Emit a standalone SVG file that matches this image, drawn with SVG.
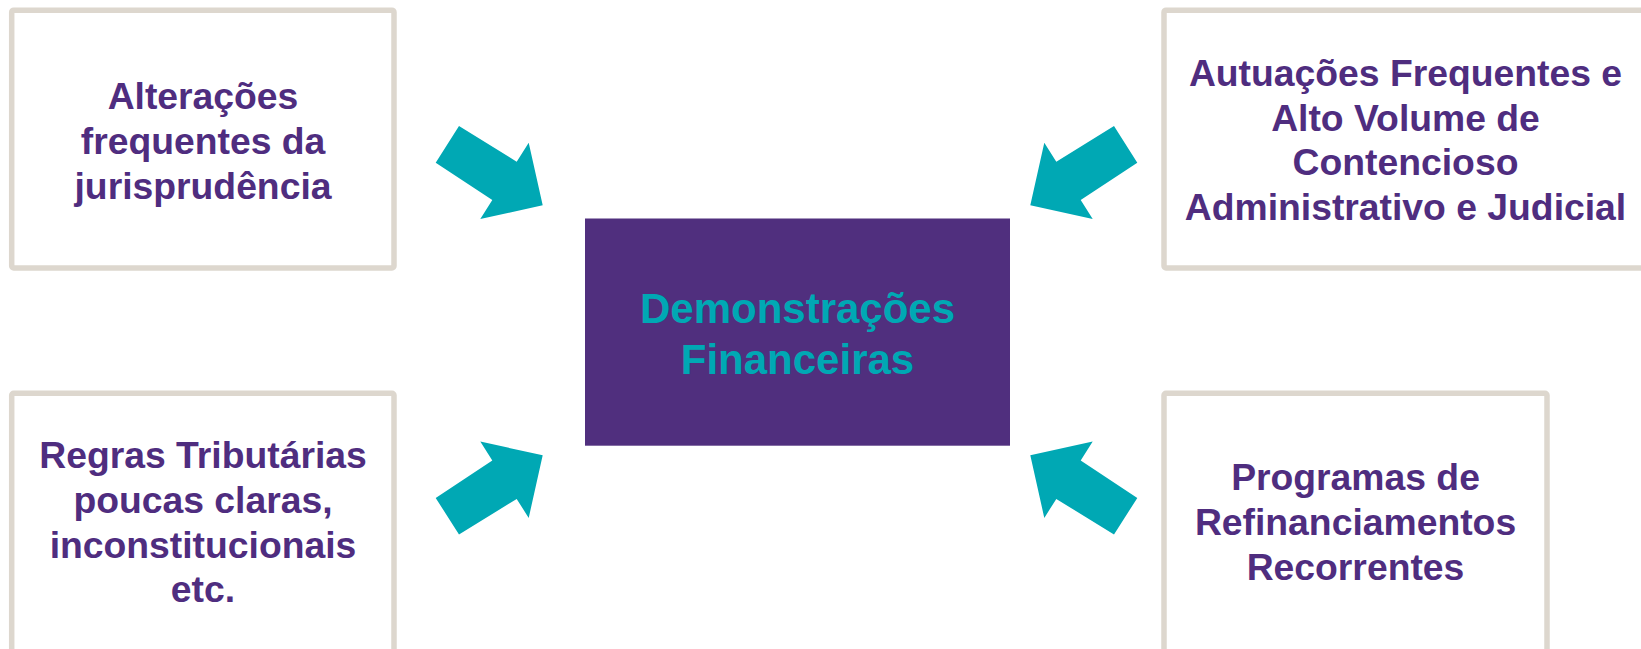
<svg xmlns="http://www.w3.org/2000/svg" width="1641" height="649" viewBox="0 0 1641 649">
  <style>
    .box { fill: #ffffff; stroke: #ddd7ce; stroke-width: 5.5; }
    .core { fill: #502f7e; }
    .lbl { font-family: "Liberation Sans", Arial, sans-serif; font-weight: bold; font-size: 37.3px; fill: #4f2d7f; text-anchor: middle; }
    .core-lbl { font-family: "Liberation Sans", Arial, sans-serif; font-weight: bold; font-size: 42px; fill: #00a8b4; text-anchor: middle; }
    .arrow { fill: #00a8b4; }
  </style>
  <rect width="1641" height="649" fill="#ffffff"/>

  <!-- block arrows pointing into the central box -->
  <g id="connectors">
    <polygon class="arrow" points="459,126 435.7,162.7 492.3,200 480.3,219 542.7,205.3 528.7,142.7 516.7,161.7"/>
    <polygon class="arrow" points="1114,126 1137.3,162.7 1080.7,200 1092.7,219 1030.3,205.3 1044.3,142.7 1056.3,161.7"/>
    <polygon class="arrow" points="459,534.6 435.7,497.9 492.3,460.6 480.3,441.6 542.7,455.3 528.7,517.9 516.7,498.9"/>
    <polygon class="arrow" points="1114,534.6 1137.3,497.9 1080.7,460.6 1092.7,441.6 1030.3,455.3 1044.3,517.9 1056.3,498.9"/>
  </g>

  <g id="center">
    <rect class="core" x="585" y="218.5" width="425" height="227.2"/>
    <text class="core-lbl" x="797.5" y="322.5">Demonstrações</text>
    <text class="core-lbl" x="797.5" y="374">Financeiras</text>
  </g>

  <g id="top-left">
    <rect class="box" x="11.7" y="10.2" width="382.3" height="257.8" rx="2"/>
    <text class="lbl" x="203" y="109">Alterações</text>
    <text class="lbl" x="203" y="153.8">frequentes da</text>
    <text class="lbl" x="203" y="198.6">jurisprudência</text>
  </g>

  <g id="top-right">
    <rect class="box" x="1164" y="10.2" width="483" height="257.8" rx="2"/>
    <text class="lbl" x="1405.5" y="85.8">Autuações Frequentes e</text>
    <text class="lbl" x="1405.5" y="130.6">Alto Volume de</text>
    <text class="lbl" x="1405.5" y="175.4">Contencioso</text>
    <text class="lbl" x="1405.5" y="220.2">Administrativo e Judicial</text>
  </g>

  <g id="bottom-left">
    <rect class="box" x="11.7" y="393.3" width="382.3" height="280" rx="2"/>
    <text class="lbl" x="203" y="468">Regras Tributárias</text>
    <text class="lbl" x="203" y="512.8">poucas claras,</text>
    <text class="lbl" x="203" y="557.6">inconstitucionais</text>
    <text class="lbl" x="203" y="602.4">etc.</text>
  </g>

  <g id="bottom-right">
    <rect class="box" x="1164" y="393.3" width="383" height="280" rx="2"/>
    <text class="lbl" x="1355.5" y="490.2">Programas de</text>
    <text class="lbl" x="1355.5" y="535">Refinanciamentos</text>
    <text class="lbl" x="1355.5" y="579.8">Recorrentes</text>
  </g>
</svg>
